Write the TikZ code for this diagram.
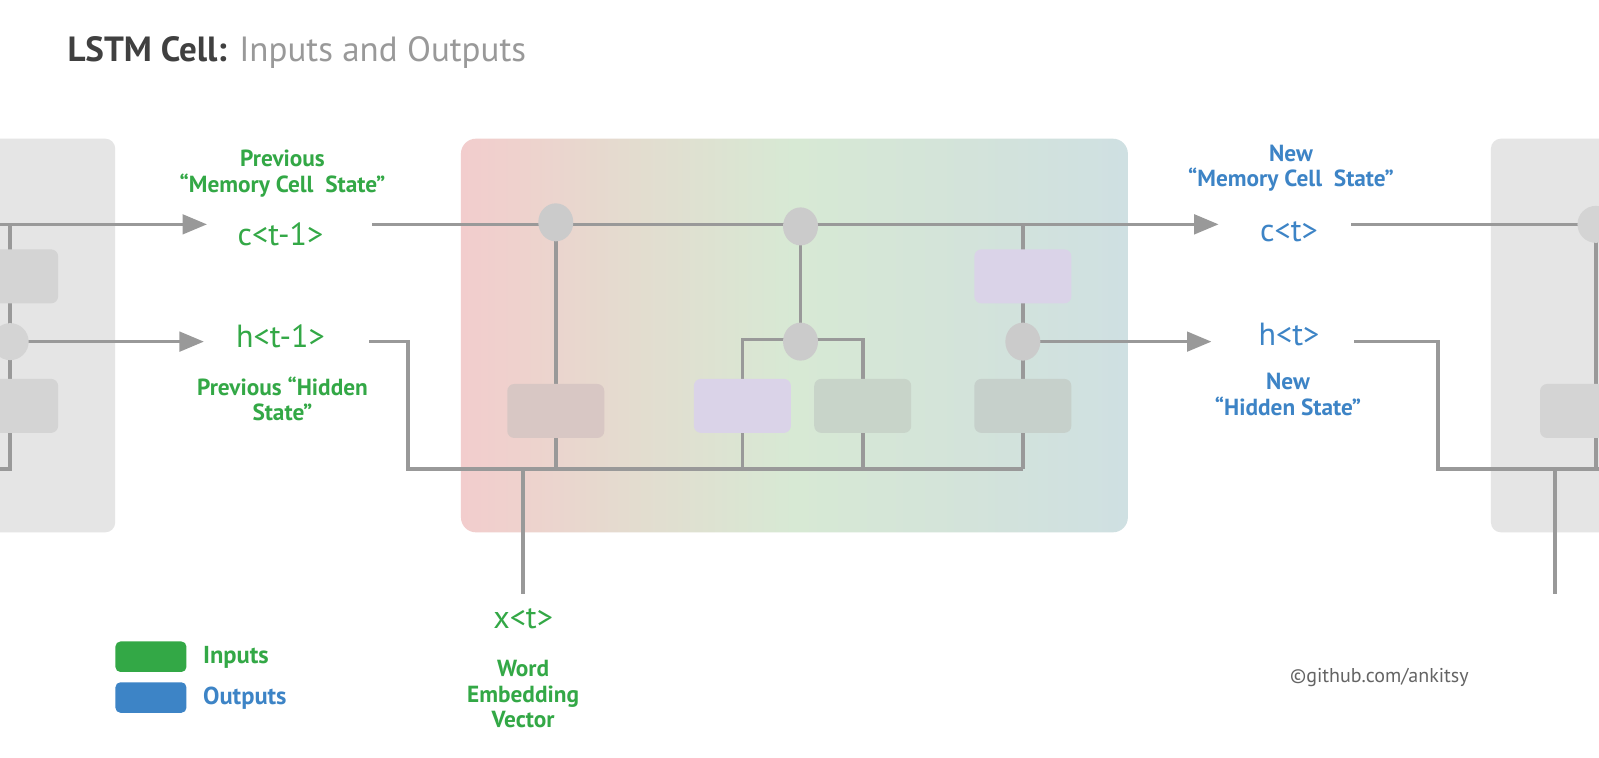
\documentclass[tikz,border=0pt]{standalone}
\usepackage{fontspec}
\setmainfont{PT Sans}
\usetikzlibrary{arrows.meta,shapes.geometric}
\definecolor{ingreen}{HTML}{33A846}
\definecolor{outblue}{HTML}{3D84C6}
\definecolor{wiregray}{HTML}{999999}
\definecolor{cellgray}{HTML}{E5E5E5}
\definecolor{boxgray}{HTML}{D4D4D4}
\definecolor{gatecol}{HTML}{CBCBCB}
\definecolor{purplebox}{HTML}{DAD3E8}
\definecolor{titledark}{HTML}{404040}
\definecolor{titlelight}{HTML}{999999}
\definecolor{gA}{HTML}{F2CDCD}
\definecolor{gA2}{HTML}{EFD1CD}
\definecolor{gB}{HTML}{E3DCCF}
\definecolor{gC}{HTML}{D7E9D4}
\definecolor{gD}{HTML}{D3E3DA}
\definecolor{gE}{HTML}{CFE0E2}
\pgfdeclarehorizontalshading{lstmgrad}{100bp}{color(0bp)=(gA); color(25bp)=(gA); color(29bp)=(gA2); color(38bp)=(gB); color(50bp)=(gC); color(63bp)=(gD); color(75bp)=(gE); color(100bp)=(gE)}
\pgfdeclarelayer{back}
\pgfdeclarelayer{wires}
\pgfsetlayers{back,wires,main}
\begin{document}
\begin{tikzpicture}[x=1.0198pt,y=-1.0198pt,
  wire/.style={draw=wiregray,line width=3.6pt},
  arr/.style={wire,-{Triangle[length=24.5pt,width=19.4pt]}},
  gate/.style={ellipse,fill=gatecol,minimum width=35pt,minimum height=38pt,inner sep=0pt},
  lgate/.style={gate,fill=boxgray},
  cellbox/.style={rectangle,rounded corners=7pt,minimum width=97pt,minimum height=54pt,inner sep=0pt},
  var/.style={font=\fontsize{32}{34}\selectfont},
  lab/.style={font=\bfseries\fontsize{23.3}{25.5}\selectfont,align=center},
]
\useasboundingbox (0,0) rectangle (1568,743.3);
\clip (0,0) rectangle (1568,743.3);

% cell backgrounds
\begin{pgfonlayer}{back}
\fill[white] (0,0) rectangle (1568,743.3);
\fill[cellgray,rounded corners=10pt] (-30,136) rectangle (113,522);
\fill[cellgray,rounded corners=10pt] (1462,136) rectangle (1650,522);
\shade[shading=lstmgrad,rounded corners=15pt] (452,136) rectangle (1106,522);
\end{pgfonlayer}

% title
\node[anchor=base west,inner sep=0pt,font=\fontsize{35}{40}\selectfont] (title) at (66,60)
  {\textcolor{titledark}{\bfseries LSTM Cell:} \textcolor{titlelight}{Inputs and Outputs}};

% left cell
\node[cellbox,fill=boxgray,minimum width=102pt] (lbox1) at (7,271) {};
\node[cellbox,fill=boxgray,minimum width=102pt] (lbox2) at (7,398) {};
\node[lgate,minimum width=37pt,minimum height=37pt] (lg) at (10,335) {};
\coordinate (lctop) at (10,220);
\coordinate (lcin) at (-5,220);
\coordinate (lbus) at (10,460);
\coordinate (lbusend) at (-5,460);

% labels left
\node[lab,text=ingreen] (prevclab) at (277,170) {Previous\\“Memory Cell~ State”};
\node[var,text=ingreen] (cprev) at (275,230) {c<t-1>};
\node[var,text=ingreen] (hprev) at (275,330) {h<t-1>};
\node[lab,text=ingreen] (prevhlab) at (277,391) {Previous “Hidden\\State”};
\coordinate (cprevarr) at (203,220);
\coordinate (hprevarr) at (200,335);
\coordinate (cprevout) at (365,220);
\coordinate (hprevout) at (362,335);
\coordinate (hbend1) at (400,335);
\coordinate (hbend2) at (400,460);

% main cell gates and boxes
\node[gate] (g1) at (545,218) {};
\node[gate] (g2) at (785,222) {};
\node[gate] (g3) at (785,335) {};
\node[gate] (g4) at (1003,335) {};
\node[cellbox,fill={rgb,255:red,216;green,199;blue,196}] (b1) at (545,403) {};
\node[cellbox,fill=purplebox] (b2) at (728,398) {};
\node[cellbox,fill={rgb,255:red,200;green,212;blue,201}] (b3) at (846,398) {};
\node[cellbox,fill={rgb,255:red,198;green,208;blue,203}] (b4) at (1003,398) {};
\node[cellbox,fill=purplebox] (b5) at (1003,271) {};
\coordinate (g1bus) at (545,460);
\coordinate (b2top) at (728,333);
\coordinate (b3top) at (846,333);
\coordinate (b2bus) at (728,460);
\coordinate (b3bus) at (846,460);
\coordinate (g4top) at (1003,220);
\coordinate (g4bus) at (1003,460);
\coordinate (xjoin) at (513,460);
\coordinate (xend) at (513,582);

% x input labels
\node[var,text=ingreen] (xt) at (513,607) {x<t>};
\node[lab,text=ingreen] (xlab) at (513,681) {Word\\Embedding\\Vector};

% right labels
\node[lab,text=outblue] (newclab) at (1266,165) {New\\“Memory Cell~ State”};
\node[var,text=outblue] (cnew) at (1264,227) {c<t>};
\node[var,text=outblue] (hnew) at (1264,328) {h<t>};
\node[lab,text=outblue] (newhlab) at (1263,387) {New\\“Hidden State”};
\coordinate (cnewarr) at (1195,220);
\coordinate (hnewarr) at (1188,335);
\coordinate (cnewout) at (1325,220);
\coordinate (cnewend) at (1610,220);
\coordinate (hnewout) at (1328,335);
\coordinate (hrb1) at (1410,335);
\coordinate (hrb2) at (1410,460);
\coordinate (rbusend) at (1610,460);

% right cell
\node[lgate,minimum width=37pt,minimum height=37pt] (rg) at (1565,220) {};
\node[cellbox,fill=boxgray,minimum width=122pt] (rbox) at (1570,403) {};
\coordinate (rtop) at (1565,220);
\coordinate (rbus) at (1565,460);
\coordinate (rxjoin) at (1525,460);
\coordinate (rxend) at (1525,582);

% wires
\begin{pgfonlayer}{wires}
\draw[arr] (lcin) -- (cprevarr);
\draw[wire] (lctop) -- (lbus) -- (lbusend);
\draw[arr] (lg.center) -- (hprevarr);
\draw[arr] (cprevout) -- (cnewarr);
\draw[wire] (hprevout) -- (hbend1) -- (hbend2) -- (g4bus);
\draw[wire] (g1.center) -- (g1bus);
\draw[wire] (g2.center) -- (g3.center);
\draw[wire] (b2bus) -- (b2top) -- (b3top) -- (b3bus);
\draw[wire] (g4top) -- (g4bus);
\draw[arr] (g4.center) -- (hnewarr);
\draw[wire] (xjoin) -- (xend);
\draw[wire] (cnewout) -- (cnewend);
\draw[wire] (hnewout) -- (hrb1) -- (hrb2) -- (rbusend);
\draw[wire] (rtop) -- (rbus);
\draw[wire] (rxjoin) -- (rxend);
\end{pgfonlayer}

% legend
\node[rectangle,rounded corners=5pt,fill=ingreen,minimum width=71pt,minimum height=30.5pt,inner sep=0pt] (legin) at (148,644) {};
\node[rectangle,rounded corners=5pt,fill=outblue,minimum width=71pt,minimum height=30.5pt,inner sep=0pt] (legout) at (148,684) {};
\node[anchor=west,text=ingreen,font=\bfseries\fontsize{24.5}{26}\selectfont,inner sep=0pt] (legintxt) at (199,645) {Inputs};
\node[anchor=west,text=outblue,font=\bfseries\fontsize{24.5}{26}\selectfont,inner sep=0pt] (legouttxt) at (199,685) {Outputs};

% credit
\node[anchor=base west,inner sep=0pt,text={rgb,255:red,100;green,100;blue,100},font=\fontsize{20}{22}\selectfont] (credit) at (1265,669) {©github.com/ankitsy};
\end{tikzpicture}
\end{document}
